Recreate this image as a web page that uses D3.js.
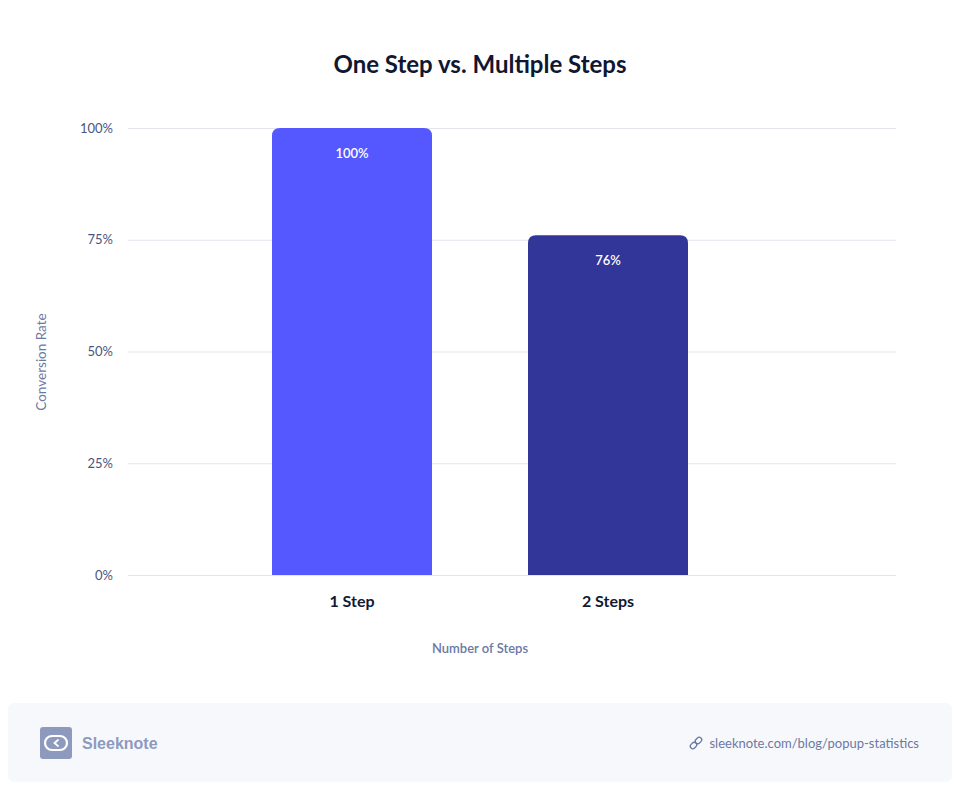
<!DOCTYPE html>
<html>
<head>
<meta charset="utf-8">
<script src="https://cdn.jsdelivr.net/npm/d3@7"></script>
<style>
  body { margin: 0; background: #fff; }
  svg { display: block; font-family: Lato, "Open Sans", sans-serif; }
</style>
</head>
<body>
<svg id="chart" width="960" height="791"></svg>
<script>
// data
var categories = ["1 Step", "2 Steps"];
var values = [100, 76];
var barColors = ["#5558ff", "#333699"];
var yTicks = [0, 25, 50, 75, 100];

var svg = d3.select("svg#chart");
var margin = {top: 128, right: 64, bottom: 216, left: 128};
var width = +svg.attr("width") - margin.left - margin.right;
var height = +svg.attr("height") - margin.top - margin.bottom;

var x = d3.scaleBand()
    .domain(categories)
    .range([0, 704])
    .paddingInner(0.375)
    .paddingOuter(0.5625);
var y = d3.scaleLinear()
    .domain([0, 100])
    .range([height, 0]);

//title
svg.append("text")
  .attr("x", 480)
  .attr("y", 73)
  .attr("text-anchor", "middle")
  .attr("font-size", "24px")
  .attr("font-weight", "bold")
  .attr("fill", "#0f1733")
  .text("One Step vs. Multiple Steps");

let g = svg.append("g")
  .attr("transform", `translate(${margin.left},${margin.top})`);

//grid + y labels
g.append("g")
  .attr("class", "yaxis")
  .call(d3.axisLeft(y).tickValues(yTicks).tickSize(-width).tickFormat(d => d + "%"))
  .call(a => a.select(".domain").remove())
  .call(a => a.selectAll(".tick line").attr("stroke", "#e3e5ee"))
  .call(a => a.selectAll(".tick text")
    .attr("x", -15)
    .attr("font-family", "Lato, sans-serif")
    .attr("font-size", "13px")
    .attr("fill", "#4a5580"));

//bars with rounded tops
var r = 8;
g.append("g")
  .attr("class", "bars")
  .selectAll("path")
  .data(values)
  .enter().append("path")
  .attr("fill", (d, i) => barColors[i])
  .attr("d", (d, i) => {
    let x0 = x(categories[i]), x1 = x0 + x.bandwidth();
    let y0 = y(d), y1 = y(0);
    return `M${x0},${y1}V${y0 + r}Q${x0},${y0} ${x0 + r},${y0}H${x1 - r}Q${x1},${y0} ${x1},${y0 + r}V${y1}Z`;
  });

//bar labels
g.append("g")
  .selectAll("text")
  .data(values)
  .enter().append("text")
  .attr("x", (d, i) => x(categories[i]) + x.bandwidth() / 2)
  .attr("y", d => y(d) + 30)
  .attr("text-anchor", "middle")
  .attr("font-size", "13px")
  .attr("font-weight", "600")
  .attr("fill", "#fff")
  .text(d => d + "%");

//xaxis
g.append("g")
  .attr("class", "xaxis")
  .attr("transform", `translate(0,${height})`)
  .call(d3.axisBottom(x).tickSize(0).tickPadding(21))
  .call(a => a.select(".domain").remove())
  .call(a => a.selectAll(".tick text")
    .attr("font-family", "Lato, sans-serif")
    .attr("font-size", "16px")
    .attr("font-weight", "bold")
    .attr("fill", "#111a33"));

//axis titles
g.append("text")
  .attr("x", (x("1 Step") + x("2 Steps") + x.bandwidth()) / 2)
  .attr("y", height + 78)
  .attr("text-anchor", "middle")
  .attr("font-size", "13px")
  .attr("font-weight", "600")
  .attr("fill", "#6b79a3")
  .text("Number of Steps");

g.append("text")
  .attr("transform", "rotate(-90)")
  .attr("x", -(362 - margin.top))
  .attr("y", -82)
  .attr("text-anchor", "middle")
  .attr("font-size", "13.5px")
  .attr("fill", "#6b79a3")
  .text("Conversion Rate");

//footer
let f = svg.append("g");
f.append("rect")
  .attr("x", 8).attr("y", 703)
  .attr("width", 944).attr("height", 79)
  .attr("rx", 6)
  .attr("fill", "#f7f8fc");
f.append("rect")
  .attr("x", 40).attr("y", 727)
  .attr("width", 32).attr("height", 32)
  .attr("rx", 3)
  .attr("fill", "#8e9abd");
// logo bubble
f.append("rect")
  .attr("x", 45).attr("y", 736)
  .attr("width", 22).attr("height", 14)
  .attr("rx", 7)
  .attr("fill", "none")
  .attr("stroke", "#fff")
  .attr("stroke-width", 2.2);
f.append("path")
  .attr("d", "M58,740L54.5,743L58,746")
  .attr("fill", "none")
  .attr("stroke", "#fff")
  .attr("stroke-width", 1.8)
  .attr("stroke-linecap", "round");
f.append("text")
  .attr("x", 82).attr("y", 749)
  .attr("font-family", "Liberation Sans, Arial, sans-serif")
  .attr("font-size", "16px")
  .attr("font-weight", "bold")
  .attr("fill", "#8e9abd")
  .text("Sleeknote");
f.append("text")
  .attr("x", 919).attr("y", 748)
  .attr("text-anchor", "end")
  .attr("font-size", "13px")
  .attr("fill", "#6b79a3")
  .text("sleeknote.com/blog/popup-statistics");
// link icon
let li = f.append("g")
  .attr("transform", "translate(696,743) rotate(-45)")
  .attr("fill", "none")
  .attr("stroke", "#6b79a3")
  .attr("stroke-width", 1.3);
li.append("rect").attr("x", -7).attr("y", -2.5).attr("width", 7).attr("height", 5).attr("rx", 2.5);
li.append("rect").attr("x", 0).attr("y", -2.5).attr("width", 7).attr("height", 5).attr("rx", 2.5);
</script>
</body>
</html>
